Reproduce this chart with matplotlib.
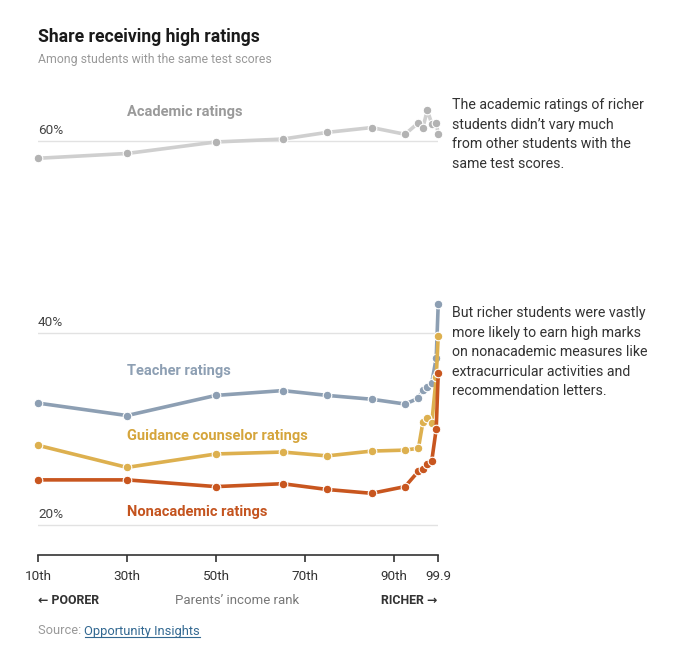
import matplotlib
matplotlib.use("Agg")
import matplotlib.pyplot as plt

plt.rcParams['font.family'] = ['Roboto', 'DejaVu Sans']

# ---- data ----
income_rank = [10, 30, 50, 65, 75, 85, 92.5, 95.5, 96.5, 97.5, 98.5, 99.5, 99.95]
academic    = [58.2, 58.7, 59.9, 60.2, 60.9, 61.4, 60.7, 61.9, 61.4, 63.2, 61.8, 61.9, 60.7]
teacher     = [32.7, 31.4, 33.5, 34.0, 33.5, 33.1, 32.6, 33.2, 34.1, 34.4, 34.8, 37.4, 43.0]
counselor   = [28.3, 26.0, 27.4, 27.6, 27.2, 27.7, 27.8, 28.0, 30.7, 31.1, 30.6, 35.4, 39.7]
nonacademic = [24.7, 24.7, 24.0, 24.3, 23.7, 23.3, 24.0, 25.6, 25.8, 26.4, 26.7, 30.0, 35.8]

xticks = [10, 30, 50, 70, 90, 99.9]
xtick_labels = ["10th", "30th", "50th", "70th", "90th", "99.9"]
yticks = [20, 40, 60]
ytick_labels = ["20%", "40%", "60%"]

series = [
    ("Academic ratings", academic, "#cfcfcf", "#b3b3b3", "#9a9a9a", 63.0),
    ("Teacher ratings", teacher, "#8d9fb3", "#8d9fb3", "#8d9fb3", 36.0),
    ("Guidance counselor ratings", counselor, "#ddb04f", "#ddb04f", "#d5a53c", 29.3),
    ("Nonacademic ratings", nonacademic, "#c8561f", "#c8561f", "#c4541f", 21.4),
]

W, H = 680, 665
fig = plt.figure(figsize=(W / 100, H / 100), dpi=100)

x0, x1 = 38, 438
ytop, ybot = 95, 555
ax = fig.add_axes([x0 / W, (H - ybot) / H, (x1 - x0) / W, (ybot - ytop) / H])
ppp = 9.6
ymin = 20 - (ybot - 525) / ppp
ymax = 60 + (141 - ytop) / ppp
ax.set_xlim(10, 99.9)
ax.set_ylim(ymin, ymax)

for s in ["top", "right", "left"]:
    ax.spines[s].set_visible(False)
ax.spines["bottom"].set_color("#333333")
ax.spines["bottom"].set_linewidth(1.2)

ax.set_xticks(xticks)
ax.set_xticklabels(xtick_labels, fontsize=9.7, color="#333333")
ax.tick_params(axis="x", length=5, width=1.2, color="#333333", pad=6)
ax.set_yticks([])

for yv, lab in zip(yticks, ytick_labels):
    ax.axhline(yv, color="#e2e2e2", lw=1, zorder=0)
    ax.text(10, yv + 0.4, lab, fontsize=9.7, color="#444444", ha="left", va="bottom")

for i, (name, vals, lc, mc, tc, ly) in enumerate(series):
    ax.plot(income_rank, vals, color=lc, lw=2.6, zorder=2 + i, clip_on=False,
            solid_capstyle="round")
    ax.plot(income_rank, vals, ls="none", marker="o", markersize=6.2,
            markerfacecolor=mc, markeredgecolor="white", markeredgewidth=0.8,
            zorder=2 + i, clip_on=False)
    ax.text(30, ly, name, fontsize=10.5, fontweight="bold", color=tc,
            ha="left", va="center")

# titles
fig.text(38 / W, 1 - 37 / H, "Share receiving high ratings", fontsize=12.7,
         fontweight="bold", color="#1a1a1a", ha="left", va="center")
fig.text(38 / W, 1 - 60 / H, "Among students with the same test scores",
         fontsize=8.8, color="#999999", ha="left", va="center")

# annotations
ann1 = ("The academic ratings of richer\nstudents didn\u2019t vary much\n"
        "from other students with the\nsame test scores.")
ann2 = ("But richer students were vastly\nmore likely to earn high marks\n"
        "on nonacademic measures like\nextracurricular activities and\n"
        "recommendation letters.")
fig.text(452 / W, 1 - 98 / H, ann1, fontsize=10.2, color="#333333",
         ha="left", va="top", linespacing=1.5)
fig.text(452 / W, 1 - 306 / H, ann2, fontsize=10.2, color="#333333",
         ha="left", va="top", linespacing=1.5)

# bottom labels
fig.text(38 / W, 1 - 601 / H, "\u2190 POORER",
         fontsize=8.9, fontweight="bold", color="#333333", ha="left", va="center")
fig.text(237 / W, 1 - 601 / H, "Parents\u2019 income rank", fontsize=9.5,
         color="#777777", ha="center", va="center")
fig.text(437 / W, 1 - 601 / H, "RICHER \u2192",
         fontsize=8.9, fontweight="bold", color="#333333", ha="right", va="center")

t = fig.text(38 / W, 1 - 631 / H, "Source: ", fontsize=9.3, color="#999999",
             ha="left", va="center")
fig.canvas.draw()
bb = t.get_window_extent()
link = fig.text(bb.x1 / W, 1 - 631 / H, "Opportunity Insights", fontsize=9.3,
                color="#326891", ha="left", va="center")
fig.canvas.draw()
lb = link.get_window_extent()
fig.add_artist(plt.Line2D([lb.x0 / W, lb.x1 / W], [(lb.y0 + 1) / H, (lb.y0 + 1) / H],
                          color="#326891", lw=0.8))

fig.savefig("out.png", dpi=100)
